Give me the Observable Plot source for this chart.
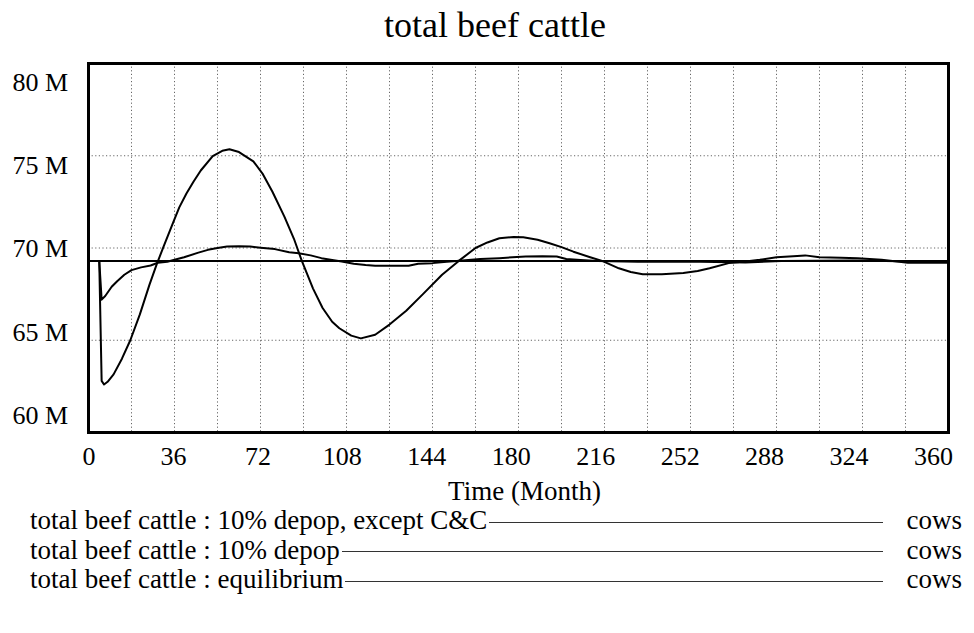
<!DOCTYPE html>
<html>
<head>
<meta charset="utf-8">
<script src="https://cdn.jsdelivr.net/npm/d3@7"></script>
<script src="https://cdn.jsdelivr.net/npm/@observablehq/plot@0.6"></script>
<style>
  body { margin: 0; background: #fff; }
  #wrap { position: relative; width: 974px; height: 633px; overflow: hidden; background: #fff;
          font-family: "Liberation Serif", "Times New Roman", serif; color: #000; }
  .layer { position: absolute; left: 0; top: 0; }
  #title { position: absolute; left: 0; width: 990px; top: 7px; text-align: center;
           font-size: 36px; line-height: 36px; }
  #xlabel { position: absolute; left: 0; width: 1049px; top: 478px; text-align: center;
            font-size: 27px; line-height: 27px; }
  #legend { position: absolute; left: 30px; top: 506px; width: 932px; font-size: 27px; }
  .row { display: flex; align-items: center; height: 29.5px; line-height: 29.5px; white-space: nowrap; }
  .row .ln { flex: 1; border-top: 1.5px solid #333; margin: 3px 0 0 2px; height: 0; }
  .row .unit { margin-left: 24px; }
</style>
</head>
<body>
<div id="wrap">
  <div id="title"></div>
  <div id="main" class="layer"></div>
  <div id="axes" class="layer"></div>
  <div id="xlabel"></div>
  <div id="legend"></div>
</div>
<script>
// ---- data (months, millions of cows) ----
const chartTitle = "total beef cattle";
const xAxisLabel = "Time (Month)";
const unitLabel = "cows";
const seriesNames = [
  "total beef cattle : 10% depop, except C&C",
  "total beef cattle : 10% depop",
  "total beef cattle : equilibrium"
];

const exceptMonths = [0, 4.5, 5.5, 7, 9.7, 12, 15, 18, 22, 26, 29, 33, 36, 40, 46, 50, 54, 58, 63, 67.7, 72, 78, 84, 88, 93, 97.5, 102, 106, 111, 116, 120, 126, 134, 138, 144, 150, 154, 164, 172, 183, 190, 196, 200, 206, 213, 230, 250, 275, 290, 320, 340, 360];
const exceptValues = [69.3, 69.3, 67.2, 67.4, 67.9, 68.2, 68.55, 68.8, 68.95, 69.05, 69.2, 69.25, 69.36, 69.5, 69.75, 69.9, 70.0, 70.08, 70.1, 70.08, 70.02, 69.94, 69.77, 69.72, 69.6, 69.45, 69.35, 69.27, 69.15, 69.08, 69.04, 69.04, 69.04, 69.15, 69.18, 69.25, 69.3, 69.4, 69.45, 69.54, 69.55, 69.54, 69.4, 69.35, 69.3, 69.25, 69.27, 69.22, 69.3, 69.32, 69.28, 69.3];

const depopMonths = [0, 4.5, 5.5, 6.5, 8, 10.5, 14, 17.5, 21.5, 25.5, 28.5, 31.5, 35.5, 38, 41, 44, 47, 52, 56, 59, 63, 69, 73, 77, 82, 86, 89.3, 94, 98, 102, 105, 110, 114, 120, 126, 133, 140, 148, 155, 162, 167, 172, 178, 182, 188, 193, 198, 203, 210, 215, 222, 227, 232, 240, 249, 255, 260, 268, 275, 281, 288, 295, 300, 306, 315, 322, 332, 343, 360];
const depopValues = [69.3, 69.3, 62.8, 62.6, 62.75, 63.15, 64.0, 65.0, 66.4, 68.0, 69.1, 70.1, 71.4, 72.2, 72.95, 73.6, 74.2, 74.98, 75.27, 75.35, 75.2, 74.7, 74.0, 73.05, 71.7, 70.5, 69.3, 67.8, 66.75, 66.0, 65.65, 65.25, 65.1, 65.3, 65.85, 66.6, 67.5, 68.55, 69.3, 70.0, 70.3, 70.53, 70.6, 70.58, 70.45, 70.26, 70.05, 69.8, 69.5, 69.3, 68.9, 68.7, 68.58, 68.58, 68.64, 68.75, 68.9, 69.18, 69.27, 69.36, 69.5, 69.55, 69.6, 69.5, 69.47, 69.45, 69.36, 69.2, 69.2];

const equilMonths = [0, 360];
const equilValues = [69.3, 69.3];

const xTicks = [0, 36, 72, 108, 144, 180, 216, 252, 288, 324, 360];
const yTicks = [60, 65, 70, 75, 80];
const xGrid = [18, 36, 54, 72, 90, 108, 126, 144, 162, 180, 198, 216, 234, 252, 270, 288, 306, 324, 342];
const yGrid = [65, 70, 75];

// ---- build table ----
const M = 1e6;
const rows = [];
[[exceptMonths, exceptValues, seriesNames[0]],
 [depopMonths, depopValues, seriesNames[1]],
 [equilMonths, equilValues, seriesNames[2]]].forEach(([ms, vs, name]) => {
  ms.forEach((m, i) => rows.push({month: m, cattle: vs[i] * M, series: name}));
});

const font = {fontFamily: '"Liberation Serif", "Times New Roman", serif', fontSize: "26px", background: "none", color: "#000", overflow: "visible"};

const main = Plot.plot({
  width: 974, height: 633,
  marginLeft: 88, marginRight: 26, marginTop: 63, marginBottom: 201,
  style: font,
  x: {domain: [0, 360], axis: null},
  y: {domain: [60 * M, 80 * M], axis: null},
  marks: [
    Plot.ruleX(xGrid, {stroke: "#666", strokeWidth: 1, strokeDasharray: "1.2,2.4"}),
    Plot.ruleY(yGrid.map(v => v * M), {stroke: "#666", strokeWidth: 1, strokeDasharray: "1.2,2.4"}),
    Plot.line(rows, {x: "month", y: "cattle", z: "series", stroke: "#000", strokeWidth: 2}),
    Plot.frame({stroke: "#000", strokeWidth: 3})
  ]
});
document.getElementById("main").appendChild(main);

// tick labels (Vensim-style spacing, slightly inset from the frame)
const axes = Plot.plot({
  width: 974, height: 633,
  marginLeft: 88.5, marginRight: 41, marginTop: 82, marginBottom: 218,
  style: font,
  x: {domain: [0, 360], ticks: xTicks, tickSize: 0, tickPadding: 31, tickFormat: d => String(d), label: null},
  y: {domain: [60 * M, 80 * M], ticks: yTicks.map(v => v * M), tickSize: 0, tickPadding: 21, tickFormat: d => `${d / M} M`, label: null},
  marks: [
    Plot.ruleY([60 * M], {strokeOpacity: 0})
  ]
});
document.getElementById("axes").appendChild(axes);

document.getElementById("title").textContent = chartTitle;
document.getElementById("xlabel").textContent = xAxisLabel;

const legend = document.getElementById("legend");
seriesNames.forEach(name => {
  const row = document.createElement("div");
  row.className = "row";
  const t = document.createElement("span"); t.textContent = name;
  const ln = document.createElement("span"); ln.className = "ln";
  const u = document.createElement("span"); u.className = "unit"; u.textContent = unitLabel;
  row.append(t, ln, u);
  legend.appendChild(row);
});
</script>
</body>
</html>
